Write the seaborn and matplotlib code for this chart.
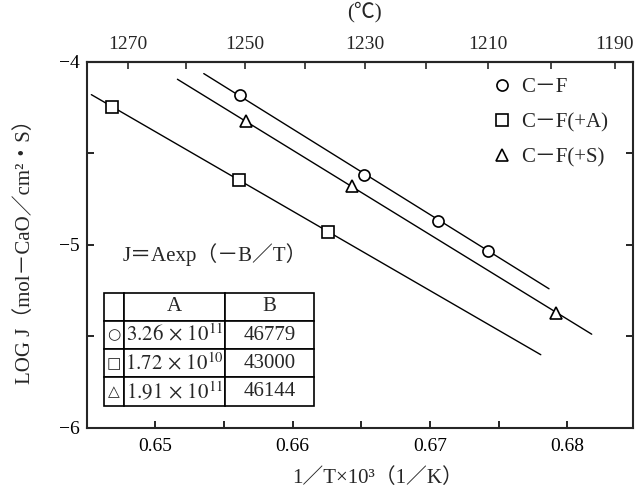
import numpy as np
import pandas as pd
import seaborn as sns
import matplotlib.pyplot as plt
from matplotlib.ticker import FixedLocator, FuncFormatter

# values (x = 1/T x 10^3, y = LOG J)
cf_x = [0.65615, 0.66523, 0.67056, 0.67420]
cf_y = [-4.182, -4.619, -4.871, -5.034]
cfa_x = [0.64684, 0.65609, 0.66257]
cfa_y = [-4.249, -4.646, -4.932]
cfs_x = [0.65659, 0.66434, 0.67917]
cfs_y = [-4.322, -4.678, -5.372]

# fitted lines, end points
cf_line_x = [0.65353, 0.67868]
cf_line_y = [-4.065, -5.240]
cfa_line_x = [0.64534, 0.67808]
cfa_line_y = [-4.180, -5.600]
cfs_line_x = [0.65161, 0.68179]
cfs_line_y = [-4.096, -5.488]

labels = ['C－F', 'C－F(+A)', 'C－F(+S)']
symbols = ['○', '□', '△']
coef_a = ['$3.26\\,\\times\\,10^{11}$', '$1.72\\,\\times\\,10^{10}$', '$1.91\\,\\times\\,10^{11}$']
coef_b = ['46779', '43000', '46144']

celsius_major = [1270, 1250, 1230, 1210, 1190]
celsius_minor = [1260, 1240, 1220, 1200]

sns.set_theme(style='ticks')
plt.rcParams['font.family'] = ['Liberation Serif', 'Noto Sans CJK JP', 'DejaVu Sans']
plt.rcParams['mathtext.fontset'] = 'stix'
plt.rcParams['axes.linewidth'] = 1.5

fig = plt.figure(figsize=(6.35, 4.95), dpi=100)
ax = fig.add_axes([0.1365, 0.1354, 0.8604, 0.740])

lines = [(cf_line_x, cf_line_y), (cfa_line_x, cfa_line_y), (cfs_line_x, cfs_line_y)]
for lx, ly in lines:
    sns.lineplot(x=lx, y=ly, ax=ax, color='black', linewidth=1.0, sort=False)

series = [(cf_x, cf_y, 'o'), (cfa_x, cfa_y, 's'), (cfs_x, cfs_y, '^')]
for (px, py, mk), lab in zip(series, labels):
    sns.lineplot(x=px, y=py, ax=ax, marker=mk, linestyle='', color='black',
                 mfc='white', mec='black', mew=1.2, markersize=8, label=lab, sort=False)

ax.set_xlim(0.645, 0.6848)
ax.set_ylim(-6, -4)
ax.xaxis.set_major_locator(FixedLocator([0.65, 0.66, 0.67, 0.68]))
ax.xaxis.set_minor_locator(FixedLocator([0.655, 0.665, 0.675]))
ax.xaxis.set_major_formatter(FuncFormatter(lambda v, p: f'{v:.2f}'))
ax.yaxis.set_major_locator(FixedLocator([-4, -5, -6]))
ax.yaxis.set_minor_locator(FixedLocator([-4.5, -5.5]))
ax.yaxis.set_major_formatter(FuncFormatter(lambda v, p: f'−{abs(int(round(v)))}'))
ax.tick_params(axis='both', which='both', direction='in', length=5, width=1.2,
               labelsize=14, right=True, colors='black')
ax.tick_params(axis='x', pad=7)
ax.tick_params(axis='y', pad=5)

sec = ax.secondary_xaxis('top', functions=(lambda x: 1000 / np.asarray(x, float) - 273.15,
                                           lambda c: 1000 / (np.asarray(c, float) + 273.15)))
sec.xaxis.set_major_locator(FixedLocator(celsius_major))
sec.xaxis.set_minor_locator(FixedLocator(celsius_minor))
sec.tick_params(axis='x', which='both', direction='in', length=5, width=1.2, labelsize=14, pad=6)
ax.text(0.508, 1.135, '(℃)', transform=ax.transAxes, ha='center', va='center', fontsize=15)

ax.set_xlabel('1／T×10³（1／K）', fontsize=15)
ax.xaxis.set_label_coords(0.533, -0.137)
ax.xaxis.label.set_va('center')
ax.set_ylabel('LOG J（mol－CaO／cm²・S）', fontsize=15)
ax.yaxis.set_label_coords(-0.113, 0.495)
ax.yaxis.label.set_va('center')

leg = ax.legend(loc='upper left', bbox_to_anchor=(0.73, 0.98), frameon=False,
                fontsize=15, handlelength=0.8, handletextpad=0.5, labelspacing=0.75,
                borderaxespad=0)

ax.text(0.235, 0.472, 'J＝Aexp（－B／T）', transform=ax.transAxes, ha='center',
        va='center', fontsize=15)

cells = [['', 'A', 'B']] + [[s, a, b] for s, a, b in zip(symbols, coef_a, coef_b)]
tbl = ax.table(cellText=cells, colWidths=[0.0967, 0.4795, 0.4238], cellLoc='center',
               bbox=[0.0317, 0.0609, 0.3847, 0.3085])
tbl.auto_set_font_size(False)
for (r, c), cell in tbl.get_celld().items():
    cell.set_linewidth(1.2)
    cell.set_edgecolor('black')
    cell.get_text().set_fontsize(15)
    if c == 0:
        cell.get_text().set_fontfamily('DejaVu Sans')
        cell.get_text().set_fontsize(11)

fig.savefig('out.png', dpi=100)
